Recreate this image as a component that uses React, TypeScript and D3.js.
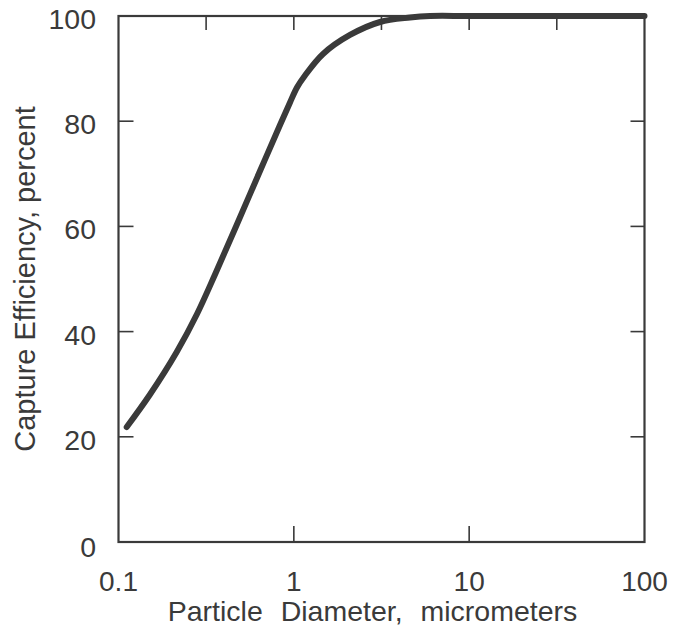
import React from "react";
import * as d3 from "d3";

const diameters = [0.1114, 0.1512, 0.2148, 0.2804, 0.3552, 0.468, 0.6412, 0.834, 0.951, 1.042, 1.158, 1.467, 2.091, 3.101, 4.598, 5.98, 10, 30, 100];
const efficiency = [21.86, 28.04, 36.12, 43.35, 50.86, 59.98, 70.53, 79.28, 83.56, 86.41, 88.69, 92.78, 96.39, 98.86, 99.71, 100, 100, 100, 100];

const xTickValues = [0.1, 1, 10, 100];
const xTickLabels = ["0.1", "1", "10", "100"];
const bottomInnerTicks = [1, 10];
const topInnerTicks = [0.316, 1, 3.16, 10, 31.6];
const yTickValues = [0, 20, 40, 60, 80, 100];
const yInnerTicks = [20, 40, 60, 80];

const xTitle = "Particle Diameter, micrometers";
const yTitle = "Capture Efficiency, percent";

const W = 675;
const H = 644;
const L = 118.5;
const R = 644.5;
const T = 16;
const B = 542;

const INK = "#3a3a3a";
const FONT = "'Liberation Sans', Arial, Helvetica, sans-serif";

export default function App() {
  const x = d3.scaleLog().domain([0.1, 100]).range([L, R]);
  const y = d3.scaleLinear().domain([0, 100]).range([B, T]);

  const pts: [number, number][] = diameters.map((d, i) => [x(d), Math.max(T, y(efficiency[i]))]);
  const line = d3.line().curve(d3.curveCatmullRom.alpha(0.5))(pts) || "";

  return (
    <svg
      width={W}
      height={H}
      style={{ position: "absolute", left: 0, top: 0, background: "#fff" }}
    >
      <rect x={0} y={0} width={W} height={H} fill="#fff" />
      {/* curve */}
      <path d={line} fill="none" stroke={INK} strokeWidth={6} strokeLinecap="round" strokeLinejoin="round" />
      {/* frame */}
      <rect x={L} y={T} width={R - L} height={B - T} fill="none" stroke={INK} strokeWidth={2.2} />
      {/* bottom inner ticks */}
      {bottomInnerTicks.map((v) => (
        <line key={"b" + v} x1={x(v)} x2={x(v)} y1={B} y2={B - 16} stroke={INK} strokeWidth={1.6} />
      ))}
      {/* top inner ticks */}
      {topInnerTicks.map((v) => (
        <line key={"t" + v} x1={x(v)} x2={x(v)} y1={T} y2={T + 14} stroke={INK} strokeWidth={1.6} />
      ))}
      {/* left & right inner ticks */}
      {yInnerTicks.map((v) => (
        <g key={"y" + v}>
          <line x1={L} x2={L + 15} y1={y(v)} y2={y(v)} stroke={INK} strokeWidth={1.6} />
          <line x1={R} x2={R - 14} y1={y(v)} y2={y(v)} stroke={INK} strokeWidth={1.6} />
        </g>
      ))}
      {/* x tick labels */}
      {xTickValues.map((v, i) => (
        <text
          key={"xl" + v}
          x={x(v)}
          y={591}
          textAnchor="middle"
          fontFamily={FONT}
          fontSize={28}
          fill={INK}
        >
          {xTickLabels[i]}
        </text>
      ))}
      {/* y tick labels */}
      {yTickValues.map((v) => (
        <text
          key={"yl" + v}
          x={96}
          y={y(v) + (v === 0 ? 15 : 13)}
          textAnchor="end"
          fontFamily={FONT}
          fontSize={28.5}
          fill={INK}
        >
          {v}
        </text>
      ))}
      {/* axis titles */}
      <text
        x={372.5}
        y={621}
        textAnchor="middle"
        fontFamily={FONT}
        fontSize={28.5}
        fill={INK}
        style={{ wordSpacing: "10px" }}
      >
        {xTitle}
      </text>
      <text
        transform={`translate(35, ${(T + B) / 2}) rotate(-90)`}
        textAnchor="middle"
        fontFamily={FONT}
        fontSize={29}
        fill={INK}
      >
        {yTitle}
      </text>
    </svg>
  );
}
